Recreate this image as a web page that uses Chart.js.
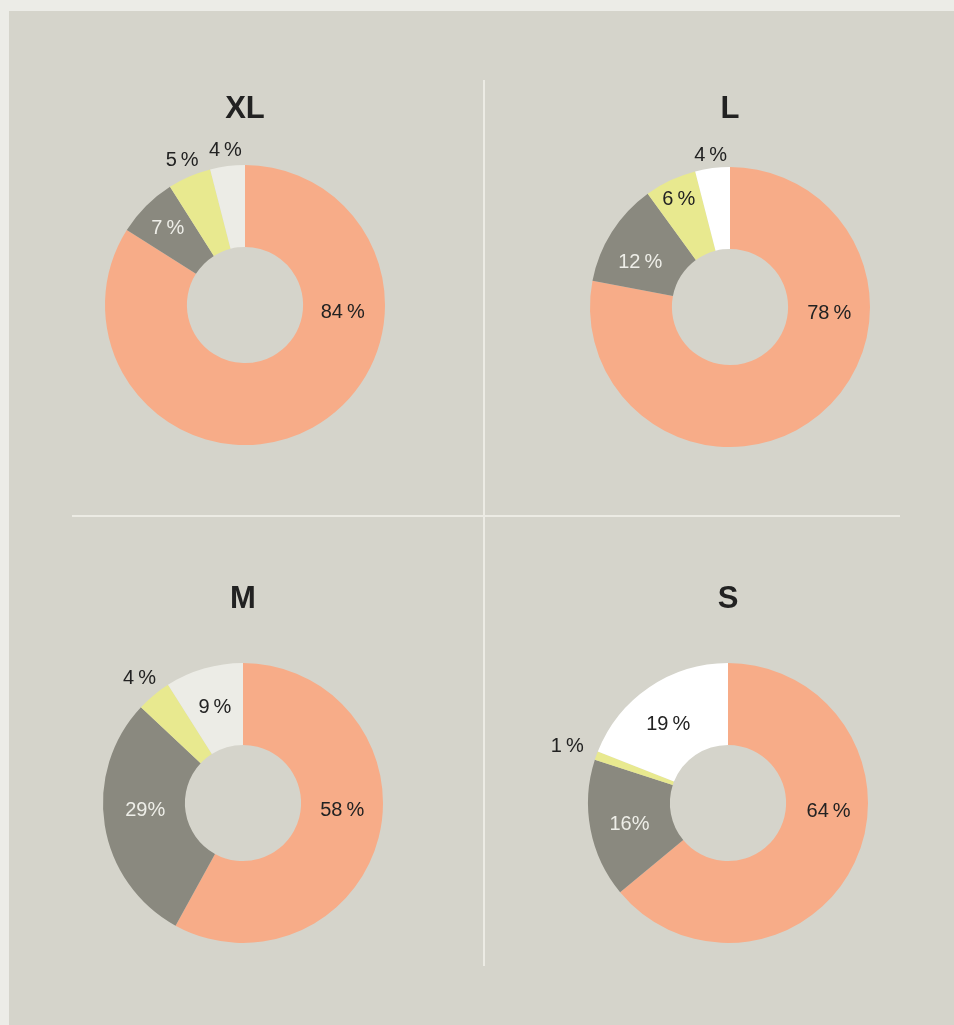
<!DOCTYPE html>
<html>
<head>
<meta charset="utf-8">
<script src="https://cdn.jsdelivr.net/npm/chart.js@4.4.1/dist/chart.umd.min.js"></script>
<style>
  html, body { margin:0; padding:0; background:#ecece7; }
  body { width:954px; height:1025px; position:relative; overflow:hidden; font-family:"Liberation Sans", Arial, sans-serif; }
  #panel { position:absolute; left:9px; top:11px; right:0; bottom:0; background:#d5d4cb; }
  .vline { position:absolute; left:483px; top:80px; width:2px; height:886px; background:#ecebe4; }
  .hline { position:absolute; left:72px; top:515px; width:828px; height:2px; background:#ecebe4; }
  .title { position:absolute; width:200px; text-align:center; font-weight:bold; font-size:31px; color:#222; line-height:1; z-index:2; }
  canvas { position:absolute; }
</style>
</head>
<body>
<div id="panel"></div>
<div class="vline"></div>
<div class="hline"></div>

<div class="title" style="left:145px; top:92px;">XL</div>
<div class="title" style="left:630px; top:92px;">L</div>
<div class="title" style="left:143px; top:582px;">M</div>
<div class="title" style="left:628px; top:582px;">S</div>

<canvas id="c-xl" width="400" height="400" style="left:45px; top:105px;"></canvas>
<canvas id="c-l" width="400" height="400" style="left:530px; top:107px;"></canvas>
<canvas id="c-m" width="400" height="400" style="left:43px; top:603px;"></canvas>
<canvas id="c-s" width="400" height="400" style="left:528px; top:603px;"></canvas>

<script>
// data, clockwise from 12 o'clock
const SIZES = ['XL', 'L', 'M', 'S'];
const XL_VALUES = [84, 7, 5, 4];
const L_VALUES  = [78, 12, 6, 4];
const M_VALUES  = [58, 29, 4, 9];
const S_VALUES  = [64, 16, 1, 19];

const XL_LABELS = ['84\u2009%', '7\u2009%', '5\u2009%', '4\u2009%'];
const L_LABELS  = ['78\u2009%', '12\u2009%', '6\u2009%', '4\u2009%'];
const M_LABELS  = ['58\u2009%', '29%', '4\u2009%', '9\u2009%'];
const S_LABELS  = ['64\u2009%', '16%', '1\u2009%', '19\u2009%'];

// styles
const SALMON = '#f7ac88', GREY = '#8a897f', YELLOW = '#e8e98f', PALE = '#ecece6', WHITE = '#ffffff';
const DARK = '#222222', LIGHT = '#eeeee8';

// label placement: angle in degrees clockwise from top (null = middle of slice), radius as fraction of outer radius
const CHARTS = [
  { id:'c-xl', values:XL_VALUES, labels:XL_LABELS, colors:[SALMON, GREY, YELLOW, PALE],
    ang:[94, null, null, null], rad:[0.70, 0.78, 1.13, 1.12], txt:[DARK, LIGHT, DARK, DARK] },
  { id:'c-l', values:L_VALUES, labels:L_LABELS, colors:[SALMON, GREY, YELLOW, WHITE],
    ang:[93, 297, null, null], rad:[0.71, 0.72, 0.86, 1.10], txt:[DARK, LIGHT, DARK, DARK] },
  { id:'c-m', values:M_VALUES, labels:M_LABELS, colors:[SALMON, GREY, YELLOW, PALE],
    ang:[94, 266, null, null], rad:[0.71, 0.70, 1.16, 0.72], txt:[DARK, LIGHT, DARK, DARK] },
  { id:'c-s', values:S_VALUES, labels:S_LABELS, colors:[SALMON, GREY, YELLOW, WHITE],
    ang:[94, 258, null, 323], rad:[0.72, 0.72, 1.22, 0.71], txt:[DARK, LIGHT, DARK, DARK] }
];

const sliceLabels = {
  id: 'sliceLabels',
  afterDatasetsDraw(chart, args, opts) {
    const ctx = chart.ctx;
    const meta = chart.getDatasetMeta(0);
    ctx.save();
    ctx.font = '20px "Liberation Sans", Arial, sans-serif';
    ctx.textAlign = 'center';
    ctx.textBaseline = 'middle';
    meta.data.forEach((arc, i) => {
      const p = arc.getProps(['x', 'y', 'startAngle', 'endAngle', 'outerRadius'], true);
      let a = (p.startAngle + p.endAngle) / 2;
      if (opts.ang[i] != null) a = (opts.ang[i] - 90) * Math.PI / 180;
      const r = p.outerRadius * opts.rad[i];
      ctx.fillStyle = opts.txt[i];
      ctx.fillText(opts.labels[i], p.x + Math.cos(a) * r, p.y + Math.sin(a) * r + 1);
    });
    ctx.restore();
  }
};

CHARTS.forEach((c, k) => {
  new Chart(document.getElementById(c.id).getContext('2d'), {
    type: 'doughnut',
    data: {
      labels: c.labels,
      datasets: [{ label: SIZES[k], data: c.values, backgroundColor: c.colors, borderWidth: 0 }]
    },
    options: {
      responsive: false,
      animation: false,
      cutout: '41.5%',
      layout: { padding: 60 },
      plugins: {
        legend: { display: false },
        tooltip: { enabled: false },
        sliceLabels: { labels: c.labels, ang: c.ang, rad: c.rad, txt: c.txt }
      }
    },
    plugins: [sliceLabels]
  });
});
</script>
</body>
</html>
